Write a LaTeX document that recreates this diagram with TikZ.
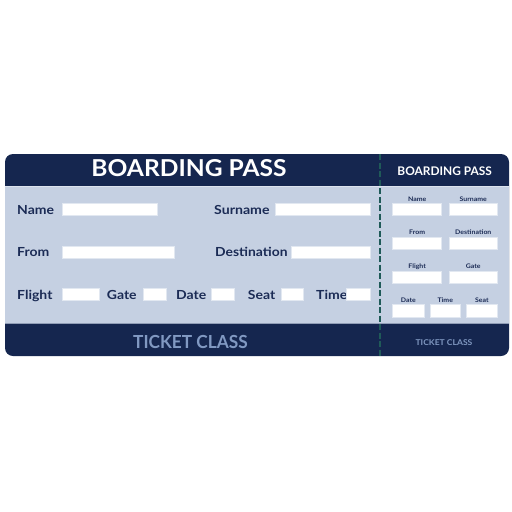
\documentclass[tikz,border=0pt]{standalone}
\usepackage{fontspec}
\setmainfont{Lato}
\definecolor{navy}{HTML}{15264F}
\definecolor{bodyc}{HTML}{C5D0E2}
\definecolor{labelc}{HTML}{1B2B55}
\definecolor{classc}{HTML}{8199C2}
\definecolor{dashc}{HTML}{1F5A58}
\definecolor{fieldedge}{HTML}{E2E8F1}
\newcommand\hsx[2]{\scalebox{#1}[1]{#2}}
\tikzset{
  lbl/.style={inner sep=0pt, anchor=base west, text=labelc, font=\bfseries\fontsize{12.5}{14}\selectfont},
  slbl/.style={inner sep=0pt, anchor=base, text=labelc, font=\bfseries\fontsize{6.3}{7}\selectfont},
  field/.style={fill=white, draw=fieldedge, line width=0.6pt},
}
\begin{document}
\begin{tikzpicture}[x=1pt,y=-1pt]
\useasboundingbox (0,0) rectangle (512,512);
% ticket
\fill[navy, rounded corners=8pt] (5,154) rectangle (509,356);
\fill[bodyc] (5,186) rectangle (509,324);
\draw[bodyc!60!white, line width=0.8pt] (5,186.4) -- (509,186.4);
\draw[bodyc!70!navy, line width=0.8pt] (5,323.6) -- (509,323.6);
% perforation
\coordinate (pt) at (380,154);
\coordinate (pb) at (380,356);
\draw[dashc, line width=2.5pt, dash pattern=on 6pt off 2.5pt] (pt) -- (pb);
% main headings
\node[inner sep=0pt, anchor=base, text=white, font=\bfseries\fontsize{23.3}{28}\selectfont] (title) at (189,176.7) {\hsx{1.055}{BOARDING PASS}};
\node[inner sep=0pt, anchor=base, text=classc, font=\bfseries\fontsize{18}{22}\selectfont] (class) at (190.5,348.3) {\hsx{0.96}{TICKET CLASS}};
% main fields
\node[lbl] (nameL) at (17,214) {\hsx{1.12}{Name}};
\draw[field] (62,203.3) rectangle (157,215.7);
\node[lbl] (surL) at (214,214) {\hsx{1.13}{Surname}};
\draw[field] (275,203.3) rectangle (370,215.7);
\node[lbl] (fromL) at (17,256.3) {\hsx{1.12}{From}};
\draw[field] (62,246.7) rectangle (174,258.3);
\node[lbl] (destL) at (215,256.3) {\hsx{1.11}{Destination}};
\draw[field] (291.7,246.7) rectangle (370,258.3);
\node[lbl] (flightL) at (17,299.4) {\hsx{1.12}{Flight}};
\draw[field] (62,288.5) rectangle (99,300);
\node[lbl] (gateL) at (106.7,299.4) {\hsx{1.12}{Gate}};
\draw[field] (143.3,288.5) rectangle (166,300);
\node[lbl] (dateL) at (176,299.4) {\hsx{1.12}{Date}};
\draw[field] (211.7,288.5) rectangle (234.3,300);
\node[lbl] (seatL) at (247.7,299.4) {\hsx{1.12}{Seat}};
\draw[field] (281,288.5) rectangle (303.3,300);
\node[lbl] (timeL) at (316,299.4) {\hsx{1.12}{Time}};
\draw[field] (346.7,288.5) rectangle (370,300);
% stub
\node[inner sep=0pt, anchor=base, text=white, font=\bfseries\fontsize{11.9}{14}\selectfont] (stitle) at (444.7,175.7) {BOARDING PASS};
\node[inner sep=0pt, anchor=base, text=classc, font=\bfseries\fontsize{8}{10}\selectfont] (sclass) at (444,345.7) {\hsx{1.07}{TICKET CLASS}};
\node[slbl] (snameL) at (417.2,201) {\hsx{1.1}{Name}};
\node[slbl] (ssurL) at (473.3,201) {\hsx{1.1}{Surname}};
\draw[field] (392.7,203.3) rectangle (441.7,215.7);
\draw[field] (449,203.3) rectangle (497.7,215.7);
\node[slbl] (sfromL) at (417.2,234.5) {\hsx{1.1}{From}};
\node[slbl] (sdestL) at (473.3,234.5) {\hsx{1.1}{Destination}};
\draw[field] (392.7,237.3) rectangle (441.7,249.3);
\draw[field] (449,237.3) rectangle (497.7,249.3);
\node[slbl] (sflightL) at (417.2,268) {\hsx{1.1}{Flight}};
\node[slbl] (sgateL) at (473.3,268) {\hsx{1.1}{Gate}};
\draw[field] (392.7,271) rectangle (441.7,283.3);
\draw[field] (449,271) rectangle (497.7,283.3);
\node[slbl] (sdateL) at (408.3,302.7) {\hsx{1.1}{Date}};
\node[slbl] (stimeL) at (445.3,302.7) {\hsx{1.1}{Time}};
\node[slbl] (sseatL) at (481.8,302.7) {\hsx{1.1}{Seat}};
\draw[field] (392.7,304.3) rectangle (424,317.3);
\draw[field] (430.7,304.3) rectangle (460,317.3);
\draw[field] (466,304.3) rectangle (497.7,317.3);
\end{tikzpicture}
\end{document}
